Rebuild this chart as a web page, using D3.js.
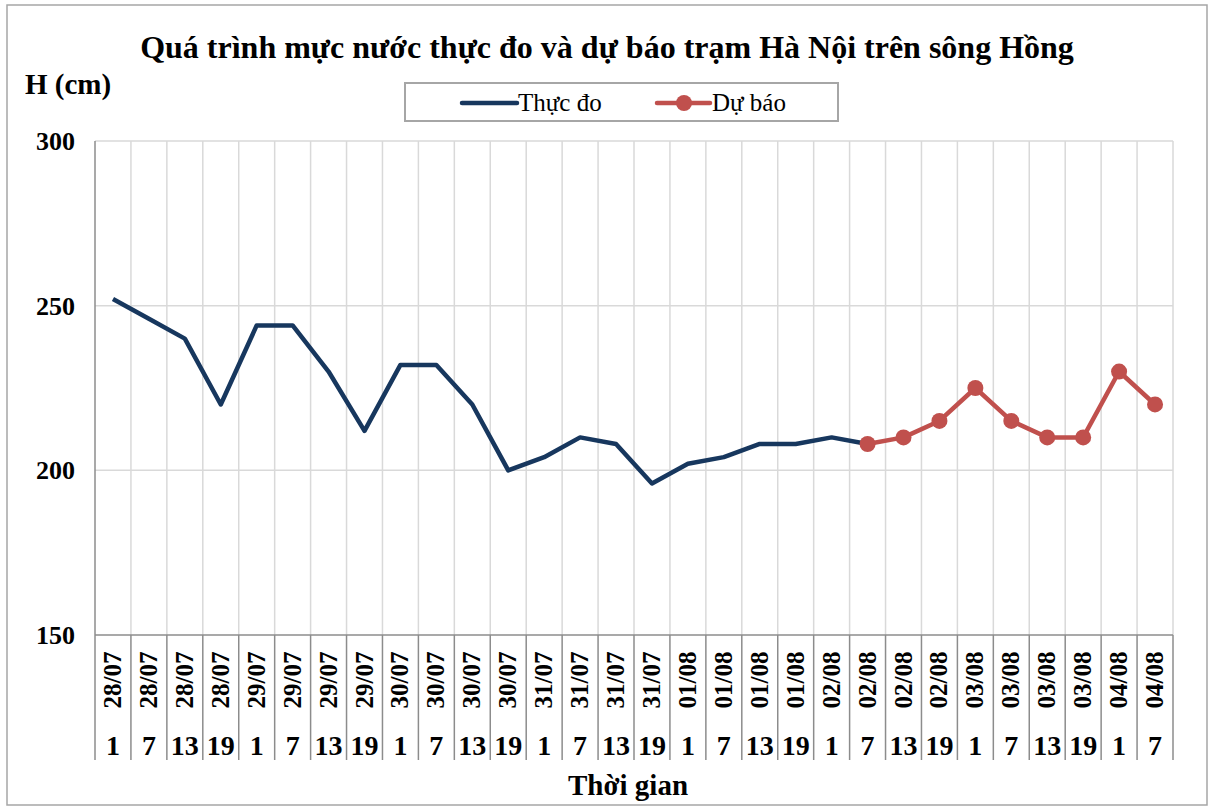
<!DOCTYPE html>
<html>
<head>
<meta charset="utf-8">
<script src="https://cdn.jsdelivr.net/npm/d3@7"></script>
<style>
  body { margin: 0; background: #fff; }
  text { font-family: "Liberation Serif", "Times New Roman", serif; }
</style>
</head>
<body>
<svg id="chart" width="1208" height="806"></svg>
<script>
const dates = ["28/07","28/07","28/07","28/07","29/07","29/07","29/07","29/07",
  "30/07","30/07","30/07","30/07","31/07","31/07","31/07","31/07",
  "01/08","01/08","01/08","01/08","02/08","02/08","02/08","02/08",
  "03/08","03/08","03/08","03/08","04/08","04/08"];
const hours = ["1","7","13","19","1","7","13","19","1","7","13","19","1","7","13","19",
  "1","7","13","19","1","7","13","19","1","7","13","19","1","7"];
// measured: indices 0..21
const observed = [252,246,240,220,244,244,230,212,232,232,220,200,204,210,208,196,202,204,208,208,210,208];
// forecast: indices 21..29
const forecast = [208,210,215,225,215,210,210,230,220];
const forecastStart = 21;
const yTicks = [150, 200, 250, 300];

const svg = d3.select("#chart");
const m = { left: 95, right: 1173, top: 141, bottom: 635 };

svg.append("rect").attr("x", 7).attr("y", 5).attr("width", 1200).attr("height", 800)
  .attr("fill", "#fff").attr("stroke", "#a6a6a6").attr("stroke-width", 1.5);

const idx = d3.range(dates.length);
const x = d3.scaleBand().domain(idx).range([m.left, m.right]);
const y = d3.scaleLinear().domain([150, 300]).range([m.bottom, m.top]);
const cx = i => x(i) + x.bandwidth() / 2;

// horizontal gridlines
svg.append("g").selectAll("line").data(yTicks.filter(t => t > 150)).join("line")
  .attr("x1", m.left).attr("x2", m.right)
  .attr("y1", d => y(d)).attr("y2", d => y(d))
  .attr("stroke", "#d9d9d9").attr("stroke-width", 1.5);

// vertical gridlines between categories
const bounds = idx.map(i => x(i)).concat([m.right]);
svg.append("g").selectAll("line").data(bounds.slice(1)).join("line")
  .attr("x1", d => d).attr("x2", d => d)
  .attr("y1", m.top).attr("y2", m.bottom)
  .attr("stroke", "#d9d9d9").attr("stroke-width", 1.5);

// category separators below axis
svg.append("g").selectAll("line").data(bounds).join("line")
  .attr("x1", d => d).attr("x2", d => d)
  .attr("y1", m.bottom).attr("y2", 760)
  .attr("stroke", "#8c8c8c").attr("stroke-width", 1.5);

// axes
svg.append("line").attr("x1", m.left).attr("x2", m.left).attr("y1", m.top).attr("y2", m.bottom)
  .attr("stroke", "#8c8c8c").attr("stroke-width", 1.5);
svg.append("line").attr("x1", m.left).attr("x2", m.right).attr("y1", m.bottom).attr("y2", m.bottom)
  .attr("stroke", "#8c8c8c").attr("stroke-width", 1.5);

// y tick labels
svg.append("g").selectAll("text").data(yTicks).join("text")
  .attr("x", 75).attr("y", d => y(d) + 9)
  .attr("text-anchor", "end").attr("font-weight", "bold").attr("font-size", 26)
  .text(d => d);

// x labels
svg.append("g").selectAll("text").data(idx).join("text")
  .attr("transform", i => `translate(${cx(i) + 8},680) rotate(-90)`)
  .attr("text-anchor", "middle").attr("font-weight", "bold").attr("font-size", 25)
  .text(i => dates[i]);
svg.append("g").selectAll("text").data(idx).join("text")
  .attr("x", i => cx(i)).attr("y", 755)
  .attr("text-anchor", "middle").attr("font-weight", "bold").attr("font-size", 28)
  .text(i => hours[i]);

// lines
const line = d3.line().x(d => cx(d[0])).y(d => y(d[1]));
const obsPts = observed.map((v, i) => [i, v]);
const fcPts = forecast.map((v, i) => [i + forecastStart, v]);

svg.append("path").datum(obsPts).attr("d", line)
  .attr("fill", "none").attr("stroke", "#17375e").attr("stroke-width", 4.5)
  .attr("stroke-linejoin", "round");
svg.append("path").datum(fcPts).attr("d", line)
  .attr("fill", "none").attr("stroke", "#c0504d").attr("stroke-width", 4.5)
  .attr("stroke-linejoin", "round");
svg.append("g").selectAll("circle").data(fcPts).join("circle")
  .attr("cx", d => cx(d[0])).attr("cy", d => y(d[1])).attr("r", 8)
  .attr("fill", "#c0504d");

// title & axis titles
svg.append("text").attr("x", 607).attr("y", 58).attr("text-anchor", "middle")
  .attr("font-weight", "bold").attr("font-size", 32)
  .text("Quá trình mực nước thực đo và dự báo trạm Hà Nội trên sông Hồng");
svg.append("text").attr("x", 25).attr("y", 94)
  .attr("font-weight", "bold").attr("font-size", 29).text("H (cm)");
svg.append("text").attr("x", 628).attr("y", 795).attr("text-anchor", "middle")
  .attr("font-weight", "bold").attr("font-size", 29).text("Thời gian");

// legend
const lg = svg.append("g");
lg.append("rect").attr("x", 405).attr("y", 83).attr("width", 433).attr("height", 38)
  .attr("fill", "#fff").attr("stroke", "#a6a6a6").attr("stroke-width", 2);
lg.append("line").attr("x1", 462).attr("x2", 517).attr("y1", 103).attr("y2", 103)
  .attr("stroke", "#17375e").attr("stroke-width", 4.5).attr("stroke-linecap", "round");
lg.append("text").attr("x", 518).attr("y", 111).attr("font-size", 25).text("Thực đo");
lg.append("line").attr("x1", 657).attr("x2", 710).attr("y1", 103).attr("y2", 103)
  .attr("stroke", "#c0504d").attr("stroke-width", 4.5).attr("stroke-linecap", "round");
lg.append("circle").attr("cx", 684).attr("cy", 103).attr("r", 8).attr("fill", "#c0504d");
lg.append("text").attr("x", 712).attr("y", 111).attr("font-size", 25).text("Dự báo");
</script>
</body>
</html>
